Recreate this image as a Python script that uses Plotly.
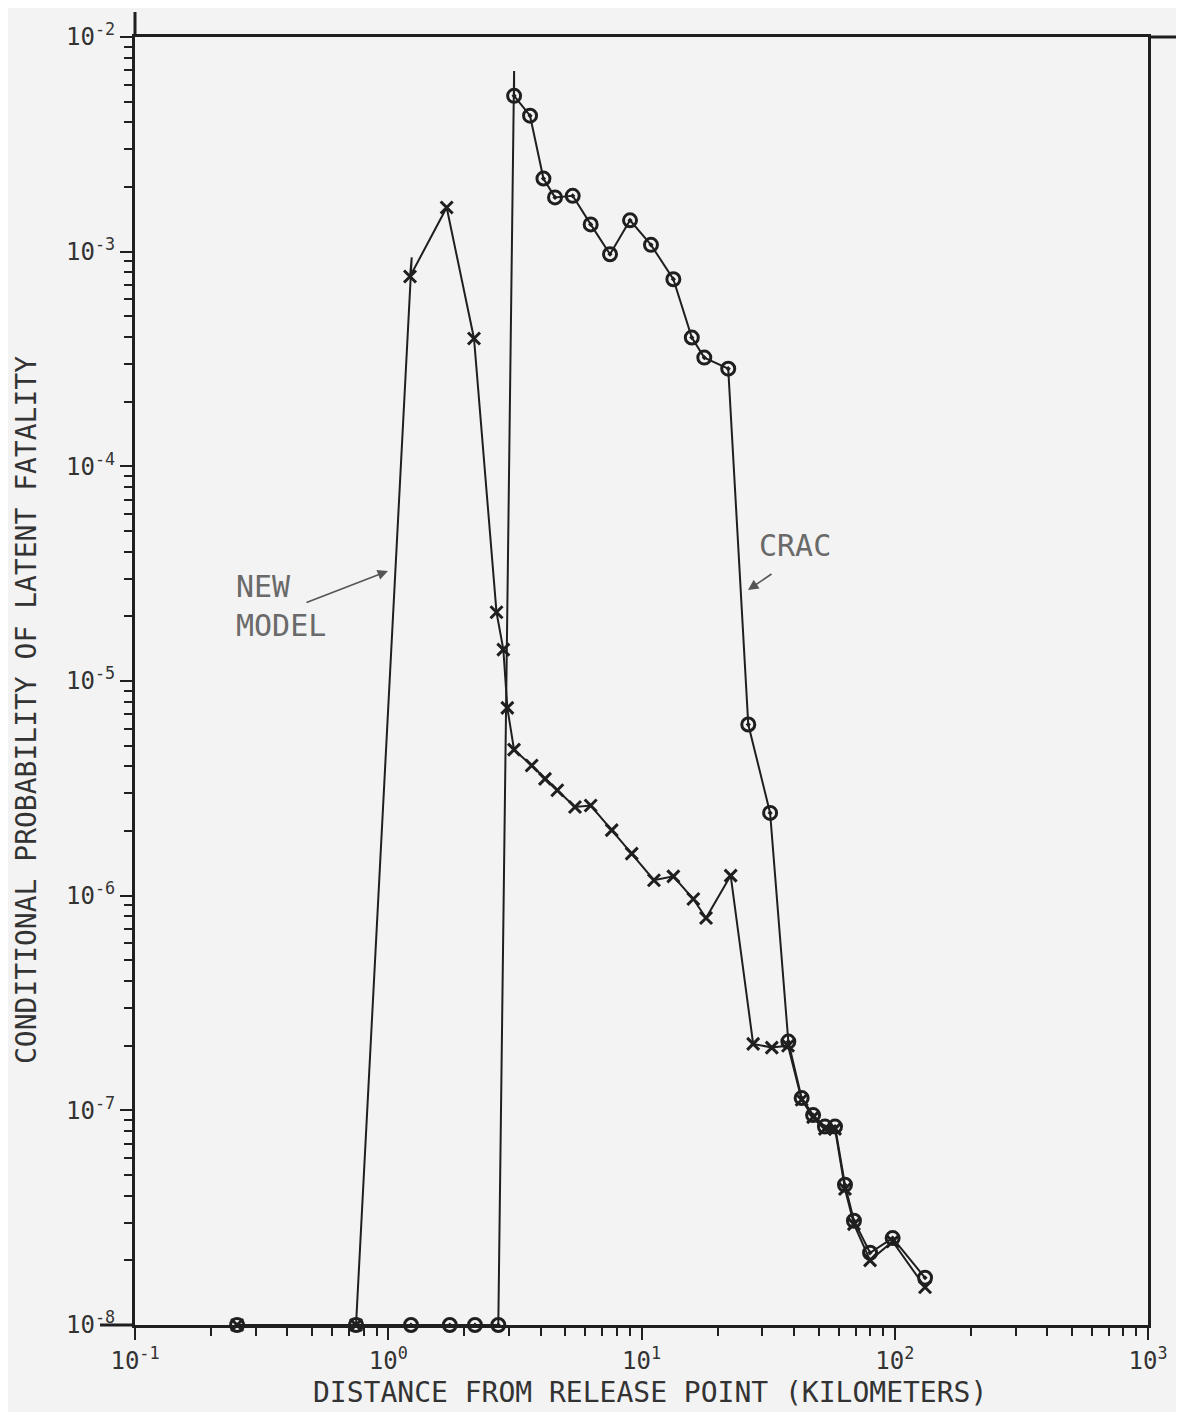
import plotly.graph_objects as go

# ---------------- data ----------------
x_ticks = [0.1, 1, 10, 100, 1000]
x_tick_labels = ["10<sup>-1</sup>", "10<sup>0</sup>", "10<sup>1</sup>", "10<sup>2</sup>", "10<sup>3</sup>"]
y_ticks = [1e-8, 1e-7, 1e-6, 1e-5, 1e-4, 1e-3, 1e-2]
y_tick_labels = ["10<sup>-8</sup>", "10<sup>-7</sup>", "10<sup>-6</sup>", "10<sup>-5</sup>",
                 "10<sup>-4</sup>", "10<sup>-3</sup>", "10<sup>-2</sup>"]

# CRAC (circles)
crac_x = [0.253, 0.746, 1.23, 1.75, 2.20, 2.72,
          3.14, 3.63, 4.10, 4.555, 5.35, 6.30, 7.51, 9.01, 10.9, 13.36, 15.8, 17.7, 22.0,
          26.4, 32.2, 38.0, 42.9, 47.6, 53.0, 58.1, 63.6, 69.0, 79.9, 98.1, 131.7]
crac_y = [1e-8, 1e-8, 1e-8, 1e-8, 1e-8, 1e-8,
          5.32e-3, 4.30e-3, 2.19e-3, 1.79e-3, 1.82e-3, 1.34e-3, 9.73e-4, 1.40e-3, 1.076e-3,
          7.44e-4, 3.98e-4, 3.21e-4, 2.85e-4,
          6.27e-6, 2.43e-6, 2.09e-7, 1.14e-7, 9.5e-8, 8.4e-8, 8.4e-8, 4.5e-8, 3.06e-8,
          2.17e-8, 2.54e-8, 1.66e-8]
# overshoot of the plotted CRAC line just before its first non-zero point
crac_spike_x = 3.14
crac_spike_y = 6.94e-3
crac_spike_index = 6

# NEW MODEL (crosses)
new_x = [0.253, 0.746, 1.219, 1.701, 2.181, 2.676, 2.848, 2.953, 3.138, 3.685, 4.159,
         4.651, 5.463, 6.30, 7.63, 9.15, 11.2, 13.36, 16.02, 17.98, 22.5, 27.6, 32.7,
         37.9, 42.9, 47.6, 53.0, 58.1, 63.6, 69.0, 79.9, 98.1, 131.7]
new_y = [1e-8, 1e-8, 7.66e-4, 1.607e-3, 3.94e-4, 2.09e-5, 1.40e-5, 7.5e-6, 4.79e-6,
         4.04e-6, 3.50e-6, 3.10e-6, 2.59e-6, 2.63e-6, 2.02e-6, 1.57e-6, 1.18e-6,
         1.23e-6, 9.65e-7, 7.87e-7, 1.24e-6, 2.04e-7, 1.96e-7,
         2.0e-7, 1.12e-7, 9.3e-8, 8.2e-8, 8.2e-8, 4.3e-8, 2.95e-8, 2.0e-8, 2.45e-8, 1.5e-8]
new_spike_x = 1.238
new_spike_y = 9.4e-4
new_spike_index = 2

# ---------------- styling ----------------
INK = "#1f1f1f"
LABEL = "#6a6a6a"
BG = "#f3f3f3"
FONT = "DejaVu Sans Mono"

crac_line_x = crac_x[:crac_spike_index] + [crac_spike_x] + crac_x[crac_spike_index:]
crac_line_y = crac_y[:crac_spike_index] + [crac_spike_y] + crac_y[crac_spike_index:]
new_line_x = new_x[:new_spike_index] + [new_spike_x] + new_x[new_spike_index:]
new_line_y = new_y[:new_spike_index] + [new_spike_y] + new_y[new_spike_index:]

fig = go.Figure()
fig.add_trace(go.Scatter(x=new_line_x, y=new_line_y, mode="lines",
                         line=dict(color=INK, width=2), cliponaxis=False,
                         showlegend=False, hoverinfo="skip"))
fig.add_trace(go.Scatter(x=crac_line_x, y=crac_line_y, mode="lines",
                         line=dict(color=INK, width=2), cliponaxis=False,
                         showlegend=False, hoverinfo="skip"))
fig.add_trace(go.Scatter(x=new_x, y=new_y, mode="markers", name="NEW MODEL",
                         marker=dict(symbol="x-thin", size=12,
                                     line=dict(color=INK, width=3)),
                         cliponaxis=False, showlegend=False))
fig.add_trace(go.Scatter(x=crac_x, y=crac_y, mode="markers", name="CRAC",
                         marker=dict(symbol="circle-open-dot", size=13, color=INK,
                                     line=dict(color=INK, width=3)),
                         cliponaxis=False, showlegend=False))

# page pixel geometry of the plot area (the page body adds an 8 px offset)
OFF = 8
L, R, T, B = 135, 1148, 37, 1325
W, H = 1184, 1412
pw, ph = R - L, B - T


def px(xp):
    return (xp - L) / pw


def py(yp):
    return (B - yp) / ph


axis_common = dict(
    type="log", showgrid=False, zeroline=False,
    showline=True, linecolor=INK, linewidth=3, mirror=True,
    ticks="outside", ticklen=12, tickwidth=2, tickcolor=INK,
    tickmode="array",
    tickfont=dict(family=FONT, size=24, color="#333333"),
    minor=dict(ticks="outside", ticklen=8, tickwidth=2, tickcolor=INK,
               dtick="D1", showgrid=False),
)

fig.update_xaxes(range=[-1, 3], tickvals=x_ticks, ticktext=x_tick_labels, **axis_common)
fig.update_yaxes(range=[-8, -2], tickvals=y_ticks, ticktext=y_tick_labels, **axis_common)

fig_w, fig_h = W - OFF, H - OFF
fig.update_layout(
    width=fig_w, height=fig_h, autosize=False,
    margin=dict(l=L - OFF, r=W - R, t=T - OFF, b=fig_h - (T - OFF) - ph, pad=0),
    paper_bgcolor=BG, plot_bgcolor=BG,
    font=dict(family=FONT, color="#333333"),
    showlegend=False,
    annotations=[
        dict(text="DISTANCE FROM RELEASE POINT (KILOMETERS)", xref="paper", yref="paper",
             x=px(650), y=py(1392), showarrow=False, xanchor="center", yanchor="middle",
             font=dict(family=FONT, size=28, color="#333333")),
        dict(text="CONDITIONAL PROBABILITY OF LATENT FATALITY", xref="paper", yref="paper",
             x=px(26), y=py(710), showarrow=False, textangle=-90,
             xanchor="center", yanchor="middle",
             font=dict(family=FONT, size=28, color="#333333")),
        dict(text="CRAC", xref="paper", yref="paper", x=px(757), y=py(545),
             showarrow=False, xanchor="left", yanchor="middle",
             font=dict(family=FONT, size=30, color=LABEL)),
        dict(text="NEW<br>MODEL", xref="paper", yref="paper", x=px(234), y=py(606),
             showarrow=False, xanchor="left", yanchor="middle", align="left",
             font=dict(family=FONT, size=30, color=LABEL)),
        dict(text="", xref="paper", yref="paper", x=px(748), y=py(590),
             ax=25, ay=-17, showarrow=True, arrowhead=2, arrowsize=1.3,
             arrowwidth=1.6, arrowcolor="#555555"),
        dict(text="", xref="paper", yref="paper", x=px(388), y=py(571),
             ax=-83, ay=32, showarrow=True, arrowhead=2, arrowsize=1.3,
             arrowwidth=1.6, arrowcolor="#555555"),
    ],
    shapes=[
        dict(type="line", xref="paper", yref="paper", x0=0, x1=0, y0=1, y1=py(12),
             line=dict(color=INK, width=3)),
        dict(type="line", xref="paper", yref="paper", x0=1, x1=px(W), y0=1, y1=1,
             line=dict(color=INK, width=3)),
        dict(type="line", xref="paper", yref="paper", x0=px(100), x1=0, y0=0, y1=0,
             line=dict(color=INK, width=3)),
    ],
)

fig.write_html("out.html")
